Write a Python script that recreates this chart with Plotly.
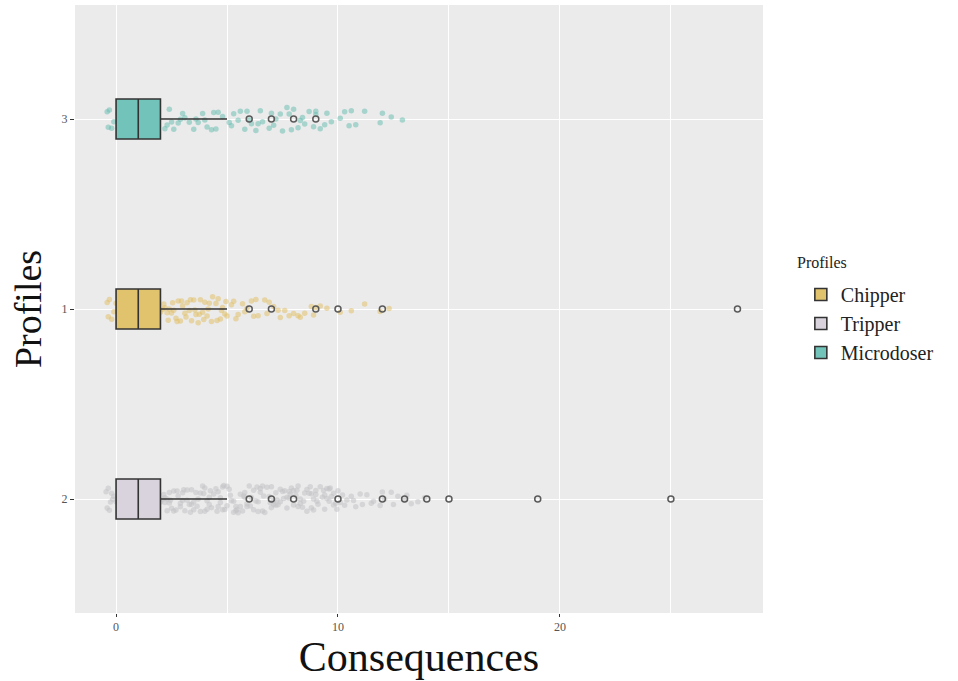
import plotly.graph_objects as go

# ---------------- data ----------------
profiles = ["Chipper", "Tripper", "Microdoser"]
profile_codes = ["1", "2", "3"]
category_order = ["2", "1", "3"]  # bottom to top

# box statistics (Consequences)
q1 = [0, 0, 0]
median = [1, 1, 1]
q3 = [2, 2, 2]
lowerfence = [0, 0, 0]
upperfence = [5, 5, 5]

# outliers
outliers_chipper = [6, 7, 9, 10, 12, 28]
outliers_tripper = [6, 7, 8, 10, 12, 13, 14, 15, 19, 25]
outliers_microdoser = [6, 7, 8, 9]

cloud_chipper = [-0.4, -0.35, -0.3, -0.2, -0.1, 0.0, 0.1, 0.2, 0.3, 0.5, 0.7, 0.9, 1.0, 1.1,
                 1.3, 1.5, 1.7, 1.9, 2.0, 2.1, 2.2, 2.3, 2.4, 2.5, 2.6, 2.7, 2.8, 2.9, 3.0, 3.1,
                 3.2, 3.3, 3.4, 3.5, 3.6, 3.7, 3.8, 3.9, 4.0, 4.1, 4.2, 4.3, 4.5, 4.6, 4.7, 4.8,
                 4.9, 5.0, 5.2, 5.4, 5.5, 5.7, 5.9, 6.1, 6.2, 6.4, 6.7, 6.9, 7.1, 7.3, 7.6, 7.8,
                 8.0, 8.2, 8.5, 8.8, 9.0, 9.2, 9.5, 10.1, 10.6, 11.2, 11.9, 12.3,
                 2.15, 2.35, 2.55, 2.75, 2.95, 3.15, 3.35, 3.55, 3.75, 3.95, 4.15, 4.35, 4.55,
                 4.75, 4.95, 5.3, 5.8, 6.3, 6.8, 7.4, 8.3, 8.9]
cloud_tripper = [-0.45, -0.4, -0.35, -0.3, -0.25, -0.2, -0.15, -0.1, 0.0, 0.2, 0.4, 0.6, 0.8,
                 1.0, 1.2, 1.4, 1.6, 1.8, 2.0, 2.1, 2.2, 2.3, 2.4, 2.5, 2.6, 2.7, 2.8, 2.9, 3.0,
                 3.1, 3.2, 3.3, 3.4, 3.5, 3.6, 3.7, 3.8, 3.9, 4.0, 4.1, 4.2, 4.3, 4.4, 4.5, 4.6,
                 4.7, 4.8, 4.9, 5.0, 5.1, 5.2, 5.3, 5.4, 5.5, 5.6, 5.7, 5.8, 5.9, 6.0, 6.1, 6.2,
                 6.3, 6.4, 6.5, 6.6, 6.7, 6.8, 6.9, 7.0, 7.1, 7.2, 7.3, 7.4, 7.5, 7.6, 7.7, 7.8,
                 7.9, 8.0, 8.1, 8.2, 8.3, 8.4, 8.5, 8.6, 8.7, 8.8, 8.9, 9.0, 9.1, 9.2, 9.3, 9.4,
                 9.5, 9.6, 9.7, 9.8, 9.9, 10.0, 10.2, 10.4, 10.6, 10.8, 11.0, 11.3, 11.6, 11.9,
                 12.1, 12.4, 12.7, 13.0, 13.3, 13.6, 13.9,
                 2.2, 2.6, 3.0, 3.4, 3.8, 4.2, 4.6, 5.0, 5.4, 5.8, 6.2, 6.6, 7.0, 7.4, 7.8, 8.2,
                 8.6, 9.0, 9.4, 9.8, 2.4, 3.2, 4.0, 4.8, 5.6, 6.4, 7.2, 8.0, 8.8, 9.6,
                 2.15, 2.45, 2.75, 3.05, 3.35, 3.65, 3.95, 4.25, 4.55, 4.85, 5.15, 5.45, 5.75,
                 6.05, 6.35, 6.65, 6.95, 7.25, 7.55, 7.85, 8.15, 8.45, 8.75, 9.05, 9.35, 9.65,
                 9.95, 10.3, 10.7, 11.1, 11.5, 12.0, 12.5, 13.1,
                 2.3, 2.9, 3.5, 4.1, 4.7, 5.3, 5.9, 6.5, 7.1, 7.7, 8.3, 8.9, 9.5, 10.1]
cloud_microdoser = [-0.4, -0.35, -0.3, -0.2, -0.1, 0.1, 0.3, 0.6, 0.9, 1.1, 1.4, 1.7, 1.9,
                    2.2, 2.4, 2.6, 2.8, 3.1, 3.3, 3.6, 3.9, 4.1, 4.3, 4.6, 4.8, 5.1, 5.3, 5.6,
                    5.8, 6.1, 6.3, 6.6, 6.9, 7.2, 7.4, 7.7, 7.9, 8.2, 8.4, 8.7, 9.0, 9.2, 9.4,
                    9.7, 10.1, 10.3, 10.6, 10.8, 11.2, 11.9, 12.4, 12.9,
                    2.5, 3.0, 3.5, 4.0, 4.5, 5.5, 6.0, 6.5, 7.0, 7.5, 8.0, 8.5, 9.0,
                    2.3, 2.9, 3.7, 4.4, 5.2, 5.9, 6.4, 7.1, 7.8, 8.3, 8.9, 9.5, 10.5, 12.0]

x_tickvals = [0, 10, 20]
x_ticktext = ["0", "10", "20"]
x_minor = [5, 15, 25]

# ---------------- styles ----------------
fills = {"Chipper": "#e1c36e", "Tripper": "#d8d3dc", "Microdoser": "#72c4ba"}
cloud_cols = {"Chipper": "rgba(225,190,95,0.5)", "Tripper": "rgba(195,195,198,0.55)",
              "Microdoser": "rgba(100,188,176,0.5)"}
clouds = {"Chipper": cloud_chipper, "Tripper": cloud_tripper, "Microdoser": cloud_microdoser}
outs = {"Chipper": outliers_chipper, "Tripper": outliers_tripper, "Microdoser": outliers_microdoser}
serif = "Liberation Serif"
BW = 0.21

fig = go.Figure()

# jitter clouds (drawn first, beneath boxes)
for name, code in zip(profiles, profile_codes):
    vals = clouds[name]
    fig.add_trace(go.Box(
        x=vals, y=[code] * len(vals), orientation="h", name=name + " pts",
        boxpoints="all", jitter=0.7, pointpos=0, width=BW,
        fillcolor="rgba(0,0,0,0)", line=dict(width=0, color="rgba(0,0,0,0)"),
        whiskerwidth=0,
        marker=dict(color=cloud_cols[name], size=5.5, line=dict(width=0)),
        showlegend=False, hoverinfo="skip",
    ))

# boxes with summary stats
for i, (name, code) in enumerate(zip(profiles, profile_codes)):
    fig.add_trace(go.Box(
        y=[code], q1=[q1[i]], median=[median[i]], q3=[q3[i]],
        lowerfence=[lowerfence[i]], upperfence=[upperfence[i]],
        orientation="h", name=name, width=BW, whiskerwidth=0,
        fillcolor=fills[name], line=dict(color="#333333", width=1.6),
        boxpoints=False, showlegend=True, legendgroup=name,
    ))

# outliers
for name, code in zip(profiles, profile_codes):
    o = outs[name]
    fig.add_trace(go.Scatter(
        x=o, y=[code] * len(o), mode="markers", showlegend=False,
        marker=dict(symbol="circle-open", size=6, color="#5a5a5a", line=dict(width=1.5)),
        hoverinfo="x",
    ))

fig.update_layout(
    width=958, height=681,
    margin=dict(l=75, r=195, t=5, b=68),
    paper_bgcolor="white", plot_bgcolor="#ebebeb",
    boxmode="overlay",
    font=dict(family=serif, color="#4d4d4d"),
    legend=dict(
        font=dict(size=20, family=serif, color="#222"),
        x=1.055, xanchor="left", y=0.556, yanchor="top",
        bgcolor="rgba(0,0,0,0)", traceorder="normal",
        tracegroupgap=0,
    ),
    annotations=[dict(
        text="Profiles", x=1.046, xref="paper", xanchor="left",
        y=0.576, yref="paper", yanchor="middle", showarrow=False,
        font=dict(size=16, family=serif, color="#222"),
    )],
    xaxis=dict(
        range=[-1.85, 29.15], tickvals=x_tickvals, ticktext=x_ticktext,
        showgrid=True, gridcolor="white", gridwidth=1.3, zeroline=False,
        ticks="outside", ticklen=3, tickcolor="#333", tickfont=dict(size=12, color="#555"),
        minor=dict(tickvals=x_minor, showgrid=True, gridcolor="white", gridwidth=0.6, ticks=""),
        title=dict(text="Consequences", font=dict(size=42, family=serif, color="#111"), standoff=5),
        showline=False,
    ),
    yaxis=dict(
        type="category", categoryorder="array", categoryarray=category_order,
        range=[-0.6, 2.6],
        showgrid=True, gridcolor="white", gridwidth=1.3, zeroline=False,
        ticks="outside", ticklen=4, tickcolor="#333", tickfont=dict(size=12, color="#555"),
        title=dict(text="Profiles", font=dict(size=38, family=serif, color="#111"), standoff=8),
        showline=False,
    ),
)

fig.write_html("out.html")
